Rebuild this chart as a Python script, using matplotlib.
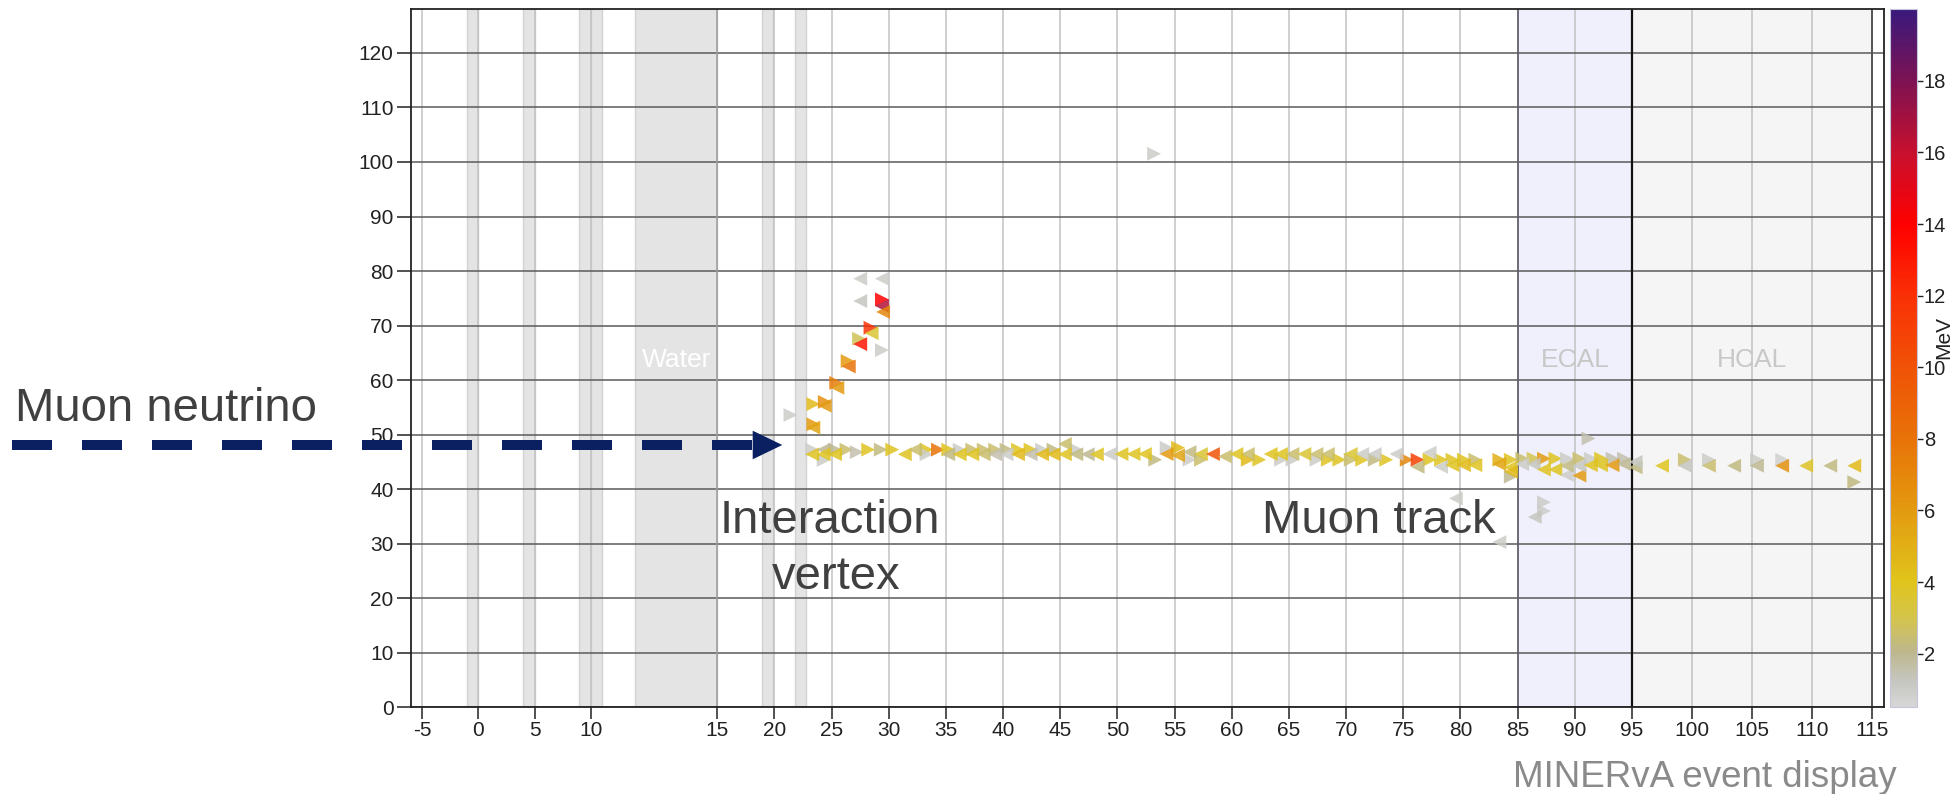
import numpy as np
import matplotlib
matplotlib.use("Agg")
import matplotlib.pyplot as plt
from matplotlib.colors import LinearSegmentedColormap, Normalize
from matplotlib.cm import ScalarMappable
from matplotlib.lines import Line2D
from matplotlib.patches import Polygon
from matplotlib.transforms import Affine2D

plt.rcParams['font.family'] = ['Liberation Sans', 'DejaVu Sans']
plt.rcParams['axes.unicode_minus'] = False

W, H = 1957, 794

# ------------------------------------------------------------------ data
x_ticks = list(range(-5, 120, 5))
y_ticks = list(range(0, 130, 10))
cbar_ticks = [2, 4, 6, 8, 10, 12, 14, 16, 18]

# axis knots of the (non-uniform) module axis: value -> relative position
axis_knot_values = [-6.03, 10, 15, 95, 115.95]
axis_knot_pos = [410.7, 590.7, 717.3, 1632.0, 1883.7]

passive_bands = [(-1, 0), (4, 5), (9, 10), (10, 10.43), (18.9, 19.9), (21.8, 22.8)]
water_band = (11.75, 15)
ecal_region = (85, 95)
hcal_region = (95, 115)

# hits drawn as right-pointing triangles (module, transverse position, energy MeV)
right_x = [21.4, 23.4, 23.4, 24.4, 25.4, 26.4, 27.4, 28.4, 29.4, 29.4, 53.2, 91.2, 87.3, 87.3,
           23.3, 24.3, 25.3, 26.3, 27.2, 28.2, 29.3, 30.3, 33.3, 33.3, 34.3, 35.2, 36.2, 37.3,
           38.3, 39.3, 40.3, 41.3, 42.4, 43.4, 44.4, 46.4,
           53.3, 54.3, 55.3, 56.3, 57.3, 61.4, 62.4, 64.3, 65.3, 67.4, 68.4, 69.4, 70.4, 71.4,
           72.5, 73.5,
           75.3, 76.25, 77.3, 78.3, 79.3, 80.3, 81.3, 83.4, 84.4, 84.4, 85.4, 86.4, 87.3, 88.3,
           89.3, 90.4, 91.4, 92.3, 93.3, 94.3,
           99.4, 101.4, 105.4, 107.5, 113.5]
right_y = [53.6, 51.9, 55.6, 56.0, 59.5, 63.5, 67.6, 69.6, 74.8, 65.5, 101.5, 49.3, 37.6, 36.0,
           47.25, 45.35, 47.25, 47.25, 46.8, 47.25, 47.25, 47.25, 47.25, 46.4, 47.25, 47.25, 47.25, 47.25,
           47.25, 47.25, 47.25, 47.25, 47.25, 47.25, 47.25, 47.25,
           45.4, 47.6, 47.6, 45.4, 45.4, 45.4, 45.4, 45.4, 45.4, 45.4, 45.4, 45.4, 45.4, 45.4,
           45.4, 45.4,
           45.4, 45.4, 45.4, 45.4, 45.4, 45.4, 45.4, 45.4, 45.4, 42.3, 45.6, 45.6, 45.6, 45.6,
           45.6, 45.6, 45.6, 45.6, 45.6, 45.6,
           45.4, 45.4, 45.4, 45.4, 41.3]
right_e = [1.0, 6.0, 4.5, 6.5, 7.5, 6.0, 2.8, 12.0, 14.0, 1.0, 1.0, 1.5, 1.0, 1.0,
           1.0, 1.0, 2.0, 2.5, 1.5, 4.0, 2.2, 4.0, 4.0, 1.0, 8.0, 4.0, 1.0, 2.5,
           2.5, 2.5, 2.2, 4.0, 4.0, 1.0, 2.2, 1.0,
           2.2, 1.0, 4.5, 1.0, 2.5, 4.5, 4.0, 1.0, 1.0, 1.0, 4.0, 4.0, 2.5, 4.0,
           2.2, 4.0,
           7.0, 11.0, 4.0, 4.0, 4.0, 4.0, 2.5, 5.0, 4.0, 2.0, 2.5, 3.0, 6.0, 4.0,
           1.0, 2.5, 1.0, 4.0, 1.5, 1.5,
           2.5, 1.0, 1.0, 0.8, 2.2]

# hits drawn as left-pointing triangles
left_x = [27.5, 29.4, 27.5, 29.4, 29.5, 28.5, 27.5, 26.5, 25.5, 24.4, 23.4, 79.6, 86.5, 83.4,
          23.3, 24.3, 24.3, 25.3, 31.4, 32.3, 35.2, 36.2, 37.3, 38.3, 39.3, 40.3, 41.3, 42.4,
          43.4, 44.4, 45.4, 45.4, 46.4, 47.4, 48.2,
          49.3, 50.35, 51.4, 52.4, 54.3, 55.3, 56.3, 57.3, 58.35, 59.4, 60.4, 61.4, 63.4, 64.3,
          65.3, 66.35, 67.4, 68.4, 70.4, 71.4, 72.5, 74.4,
          76.25, 77.3, 78.3, 79.3, 80.3, 81.3, 83.4, 84.4, 84.4, 85.4, 86.4, 87.3, 88.3, 89.3,
          89.3, 90.4, 90.4, 91.4, 92.3, 93.3, 94.3, 95.3, 95.3,
          97.5, 99.4, 101.4, 103.5, 105.4, 107.5, 109.5, 111.5, 113.5]
left_y = [78.6, 78.6, 74.5, 73.6, 72.5, 68.6, 66.6, 62.5, 58.6, 55.3, 51.3, 38.3, 34.9, 30.3,
          46.4, 47.25, 46.4, 46.4, 46.4, 47.25, 46.4, 46.4, 46.4, 46.4, 46.4, 46.4, 46.4, 46.4,
          46.4, 46.4, 48.3, 46.4, 46.4, 46.4, 46.4,
          46.45, 46.45, 46.45, 46.45, 46.45, 46.2, 46.8, 46.45, 46.45, 46.0, 46.45, 46.45, 46.45, 46.45,
          46.45, 46.45, 46.45, 46.45, 46.45, 46.45, 46.45, 46.45,
          44.1, 46.7, 44.1, 44.4, 44.4, 44.4, 44.6, 44.0, 43.2, 44.6, 44.6, 43.6, 43.6, 42.6,
          44.3, 42.5, 44.3, 44.4, 44.4, 44.4, 44.6, 44.0, 45.0,
          44.3, 44.3, 44.3, 44.3, 44.3, 44.3, 44.3, 44.3, 44.3]
left_e = [1.0, 1.0, 1.2, 16.5, 7.0, 3.5, 13.0, 8.0, 6.0, 6.0, 5.5, 1.0, 1.2, 1.0,
          4.0, 2.0, 4.0, 4.0, 4.0, 2.5, 2.2, 4.0, 4.0, 2.5, 1.5, 1.0, 4.5, 1.5,
          4.5, 4.5, 2.5, 4.0, 2.2, 2.0, 4.0,
          1.0, 4.0, 4.0, 4.0, 6.0, 5.5, 2.2, 3.5, 10.0, 2.5, 4.0, 2.5, 4.0, 4.0,
          2.5, 3.5, 2.5, 2.5, 3.5, 1.0, 1.0, 1.0,
          2.2, 1.0, 1.0, 4.0, 4.5, 4.0, 5.5, 4.0, 4.5, 1.0, 1.2, 4.0, 4.0, 1.0,
          2.2, 6.0, 1.2, 4.0, 4.0, 6.0, 2.0, 2.2, 1.2,
          4.0, 1.2, 2.5, 2.2, 2.0, 6.5, 3.8, 2.2, 4.5]

energy_range = (0.5, 20.0)

# ------------------------------------------------------------------ figure
fig = plt.figure(figsize=(W / 100, H / 100), dpi=100)
px = Affine2D().scale(1.0 / W, -1.0 / H).translate(0, 1) + fig.transFigure

ax = fig.add_axes([410.7 / W, (H - 707.3) / H, (1883.7 - 410.7) / W, 698.0 / H])


def fwd(v):
    return np.interp(v, axis_knot_values, axis_knot_pos)


def inv(p):
    return np.interp(p, axis_knot_pos, axis_knot_values)


ax.set_xscale('function', functions=(fwd, inv))
ax.set_xlim(axis_knot_values[0], axis_knot_values[-1])
ax.set_ylim(0, 128)

# detector regions
for a, b in passive_bands:
    ax.axvspan(a, b, facecolor='#e4e4e4', edgecolor='#d2d2d2', lw=1.0, zorder=0.6)
ax.axvspan(*water_band, facecolor='#e4e4e4', edgecolor='#d2d2d2', lw=1.0, zorder=0.6)
ax.axvspan(*ecal_region, facecolor='#f0f0fc', edgecolor='none', zorder=0.5)
ax.axvspan(*hcal_region, facecolor='#f5f5f5', edgecolor='none', zorder=0.5)

ax.set_axisbelow(False)
ax.xaxis.grid(True, color='#c2c2c2', lw=1.1)
ax.yaxis.grid(True, color='#5a5a5a', lw=1.1)
ax.axvline(15, color='#a0a0a0', lw=1.1, zorder=2.6)
ax.axvline(ecal_region[0], color='#5c5c6c', lw=1.2, zorder=2.7)
ax.axvline(ecal_region[1], color='#111111', lw=1.6, zorder=2.7)
ax.axvline(hcal_region[1], color='#555555', lw=1.4, zorder=2.7)

ax.text(sum(water_band) / 2, 62.4, 'Water', color='white', fontsize=19,
        ha='center', va='baseline', zorder=2.8)
ax.text(sum(ecal_region) / 2, 62.4, 'ECAL', color='#c8c8c8', fontsize=19,
        ha='center', va='baseline', zorder=2.8)
ax.text(sum(hcal_region) / 2, 62.4, 'HCAL', color='#c8c8c8', fontsize=19,
        ha='center', va='baseline', zorder=2.8)

# colour map
cmap = LinearSegmentedColormap.from_list('minerva', [
    (0.0, '#d6d6d6'),
    ((1.2 - 0.5) / 19.5, '#c6c6c0'),
    ((2.0 - 0.5) / 19.5, '#bdb78e'),
    ((3.0 - 0.5) / 19.5, '#d5c54a'),
    ((4.0 - 0.5) / 19.5, '#e0c41c'),
    ((6.0 - 0.5) / 19.5, '#e39a10'),
    ((8.0 - 0.5) / 19.5, '#e87208'),
    ((10.0 - 0.5) / 19.5, '#f05206'),
    ((12.0 - 0.5) / 19.5, '#fa3006'),
    ((14.0 - 0.5) / 19.5, '#ff0000'),
    ((16.0 - 0.5) / 19.5, '#c8102e'),
    ((18.0 - 0.5) / 19.5, '#7e1252'),
    (1.0, '#3a1a7c'),
])
norm = Normalize(*energy_range)

ax.scatter(right_x, right_y, c=right_e, cmap=cmap, norm=norm, marker='>', s=100,
           linewidths=0, alpha=0.85, zorder=3)
ax.scatter(left_x, left_y, c=left_e, cmap=cmap, norm=norm, marker='<', s=100,
           linewidths=0, alpha=0.85, zorder=3)

# axes styling
ax.set_xticks(x_ticks)
ax.set_xticklabels([str(t) for t in x_ticks])
ax.set_yticks(y_ticks)
ax.set_yticklabels([str(t) for t in y_ticks])
ax.tick_params(axis='y', direction='out', length=10, width=1.1, pad=2.4,
               labelsize=15, colors='#222222')
ax.tick_params(axis='x', direction='out', length=8.6, width=1.1, pad=1.5,
               labelsize=15, colors='#222222')
for s in ax.spines.values():
    s.set_color('#222222')
    s.set_linewidth(1.3)
    s.set_zorder(4)

# colour bar
cax = fig.add_axes([1889.7 / W, (H - 707.3) / H, 27.3 / W, 698.0 / H])
cb = fig.colorbar(ScalarMappable(norm=norm, cmap=cmap), cax=cax, ticks=cbar_ticks)
cb.outline.set_edgecolor('#c4c4dc')
cb.outline.set_linewidth(0.8)
cax.tick_params(length=4, width=1.0, pad=1, labelsize=14.5, colors='#222222')
cax.set_yticklabels([str(t) for t in cbar_ticks])
fig.text(1944 / W, 1 - 337 / H, 'MeV', rotation=90, ha='center', va='center',
         fontsize=15, color='#222222')

# annotations
navy = '#0a2060'
fig.add_artist(Line2D([11.7, 751.7], [445, 445], transform=px, color=navy, lw=7.2,
                      linestyle=(0, (4, 3)), solid_capstyle='butt', dash_capstyle='butt'))
fig.add_artist(Polygon([[752.7, 430.7], [782.3, 445], [752.7, 459.3]], closed=True,
                       transform=px, facecolor=navy, edgecolor='none'))

label_color = '#404040'
fig.text(165.8, 420.7, 'Muon neutrino', transform=px, ha='center', va='baseline',
         fontsize=34, color=label_color)
fig.text(829.5, 533.3, 'Interaction', transform=px, ha='center', va='baseline',
         fontsize=34, color=label_color)
fig.text(836, 589.3, 'vertex', transform=px, ha='center', va='baseline',
         fontsize=34, color=label_color)
fig.text(1378.6, 533.3, 'Muon track', transform=px, ha='center', va='baseline',
         fontsize=34, color=label_color)
fig.text(1705, 787.3, 'MINERvA event display', transform=px, ha='center', va='baseline',
         fontsize=26.5, color='#8a8a8a')

fig.savefig('out.png', dpi=100)
